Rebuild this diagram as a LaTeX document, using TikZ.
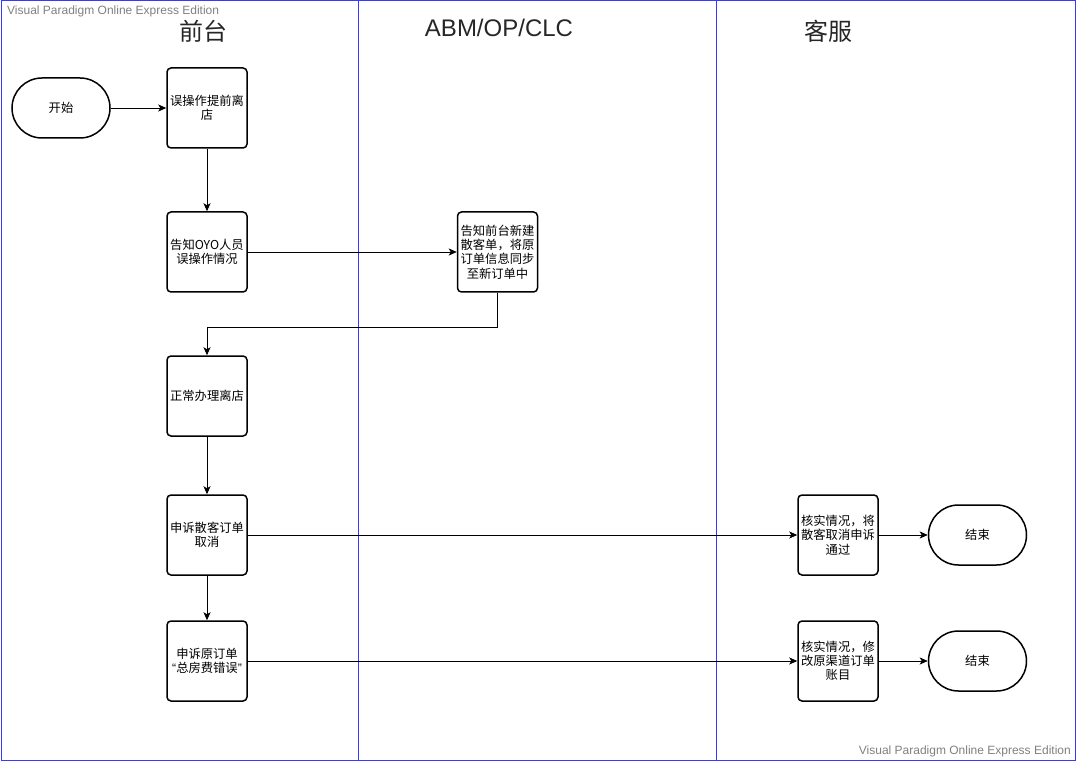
\documentclass[tikz,border=0pt]{standalone}
\usepackage{fontspec}
\setmainfont{Liberation Sans}
\newfontfamily\cjk{Noto Sans CJK SC}
\usetikzlibrary{arrows.meta}
\definecolor{lane}{RGB}{56,56,255}
\definecolor{wm}{RGB}{128,128,128}
\tikzset{
  proc/.style={draw=black, line width=1.5pt, rounded corners=4pt, minimum width=80pt, minimum height=80pt, inner sep=0pt, align=center, font=\cjk\fontsize{12.3}{14.3}\selectfont},
  term/.style={draw=black, line width=1.5pt, rounded corners=30pt, minimum width=98pt, minimum height=60pt, inner sep=0pt, align=center, font=\cjk\fontsize{12.3}{14.3}\selectfont},
  flow/.style={line width=0.9pt, -{Stealth[length=8pt,width=7pt,inset=2pt]}},
  hdr/.style={font=\fontsize{24}{28}\selectfont, text=black!85},
  wmk/.style={font=\fontsize{12}{14}\selectfont, text=wm, inner sep=0pt},
  laneln/.style={draw=lane, line width=1pt}
}
\begin{document}
\begin{tikzpicture}[x=1pt,y=-1pt]
\useasboundingbox (0,0) rectangle (1077,762);
% frame and lanes
\draw[laneln] (1,1) rectangle (1075,760);
\draw[laneln] (358,1) -- (358,760);
\draw[laneln] (716,1) -- (716,760);
% watermarks
\node[wmk, anchor=west] (wm1) at (7,11) {Visual Paradigm Online Express Edition};
\node[wmk, anchor=east] (wm2) at (1071,751) {Visual Paradigm Online Express Edition};
% headers
\node[hdr, font=\cjk\fontsize{24}{28}\selectfont] (h1) at (203,31) {前台};
\node[hdr] (h2) at (499,28) {ABM/OP/CLC};
\node[hdr, font=\cjk\fontsize{24}{28}\selectfont] (h3) at (828,31) {客服};
% nodes
\node[term] (start) at (61,108) {开始};
\node[proc] (b1) at (207,108) {误操作提前离\\店};
\node[proc] (b2) at (207,252) {告知OYO人员\\误操作情况};
\node[proc] (a1) at (497.5,252) {告知前台新建\\散客单，将原\\订单信息同步\\至新订单中};
\node[proc] (b3) at (207,396) {正常办理离店};
\node[proc] (b4) at (207,535) {申诉散客订单\\取消};
\node[proc] (b5) at (207,661) {申诉原订单\\{\rmfamily “}总房费错误{\rmfamily ”}};
\node[proc] (k1) at (838,535) {核实情况，将\\散客取消申诉\\通过};
\node[proc] (k2) at (838,661) {核实情况，修\\改原渠道订单\\账目};
\node[term] (e1) at (977.5,535) {结束};
\node[term] (e2) at (977.5,661) {结束};
% connectors
\draw[flow] (start) -- (b1);
\draw[flow] (b1) -- (b2);
\draw[flow] (b2) -- (a1);
\draw[flow] (a1.south) |- (207,327) -- (b3.north);
\draw[flow] (b3) -- (b4);
\draw[flow] (b4) -- (b5);
\draw[flow] (b4) -- (k1);
\draw[flow] (b5) -- (k2);
\draw[flow] (k1) -- (e1);
\draw[flow] (k2) -- (e2);
\end{tikzpicture}
\end{document}
